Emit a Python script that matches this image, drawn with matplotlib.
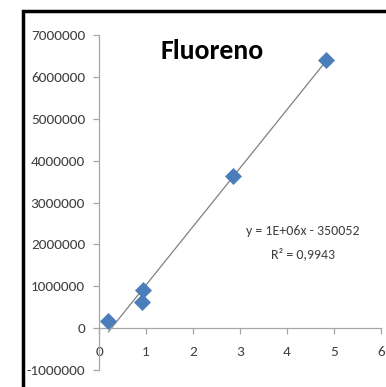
import matplotlib
matplotlib.use("Agg")
import matplotlib.pyplot as plt
import numpy as np
from matplotlib.patches import Rectangle

conc = [0.20, 0.93, 0.92, 2.86, 4.82]
area = [175000, 905000, 630000, 3630000, 6410000]
title = "Fluoreno"
equation = "y = 1E+06x - 350052"
r2_text = "R² = 0,9943"
xticks = [0, 1, 2, 3, 4, 5, 6]
yticks = [-1000000, 0, 1000000, 2000000, 3000000, 4000000, 5000000, 6000000, 7000000]

plt.rcParams['font.family'] = ["Carlito", "DejaVu Sans"]

fig = plt.figure(figsize=(3.86, 3.87), dpi=100)
ax = fig.add_axes([99/386, 1-370/387, (381-99)/386, (370-35)/387])

ax.set_xlim(0, 6)
ax.set_ylim(-1000000, 7000000)

# linear trendline fitted to the data
p = np.polyfit(conc, area, 1)
xs = np.array([min(conc), max(conc)])
ax.plot(xs, np.polyval(p, xs), color="#808080", lw=0.9, zorder=2)

ax.scatter(conc, area, marker="D", s=75, color="#4a7ebb", zorder=3, linewidths=0)

for s in ["top", "right"]:
    ax.spines[s].set_visible(False)
ax.spines["bottom"].set_position(("data", 0))
for s in ["left", "bottom"]:
    ax.spines[s].set_color("#a6a6a6")
    ax.spines[s].set_linewidth(0.9)

ax.set_xticks(xticks)
ax.set_yticks(yticks)
ax.set_yticklabels([str(v) for v in yticks])
ax.tick_params(axis="both", colors="#a6a6a6", labelcolor="#404040", labelsize=11,
               length=4, width=0.9, direction="out")
ax.tick_params(axis="x", pad=9)
ax.tick_params(axis="y", pad=6)

fig.text(212/386, 1-51/387, title, ha="center", va="center",
         fontsize=20, fontweight="bold", color="#000000")
fig.text(303/386, 1-231/387, equation, ha="center", va="center",
         fontsize=10, color="#404040")
fig.text(303/386, 1-254/387, r2_text, ha="center", va="center",
         fontsize=10, color="#404040")

fig.patches.append(Rectangle((23/386, -0.05), 1.2, 1-11/387+0.05, transform=fig.transFigure,
                             fill=False, edgecolor="black", lw=2.5))

fig.savefig("out.png", dpi=100)
